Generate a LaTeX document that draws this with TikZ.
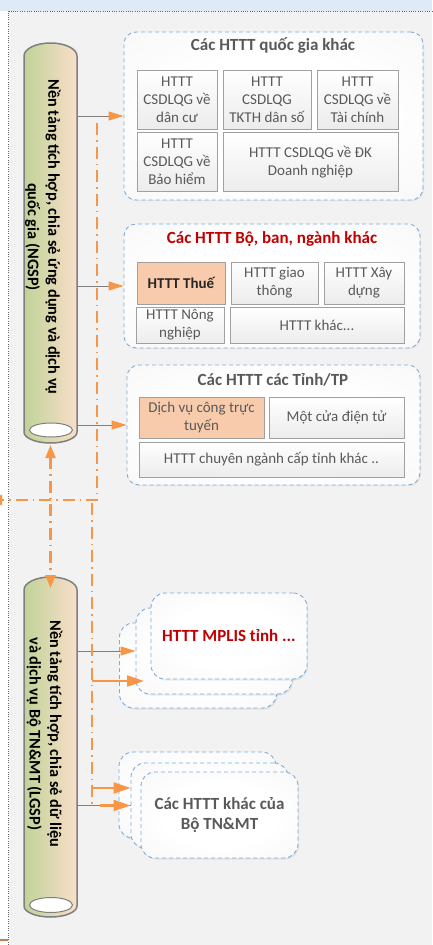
\documentclass[tikz,border=0pt]{standalone}
\usepackage{fontspec}
\setmainfont{Carlito}
\usetikzlibrary{arrows.meta,shadows,calc}
\definecolor{bg}{RGB}{242,242,242}
\definecolor{band}{RGB}{222,235,247}
\definecolor{dotc}{RGB}{105,105,105}
\definecolor{og}{RGB}{247,150,70}
\definecolor{lnk}{RGB}{127,127,127}
\definecolor{dblue}{RGB}{125,172,220}
\definecolor{txtg}{RGB}{89,89,89}
\definecolor{redt}{RGB}{192,0,0}
\definecolor{peach}{RGB}{248,203,173}
\definecolor{cgreen}{RGB}{192,211,152}
\definecolor{cmid}{RGB}{238,226,196}
\definecolor{cpeach}{RGB}{249,222,202}
\definecolor{ibord}{RGB}{160,160,160}
\definecolor{shgray}{RGB}{236,236,236}
\definecolor{softg}{RGB}{234,234,234}
\definecolor{brn}{RGB}{195,125,80}
\pgfdeclareradialshading{softrad}{\pgfpoint{0bp}{0bp}}{color(0bp)=(white); color(18bp)=(white); color(72bp)=(softg)}
\tikzset{
  dotline/.style={draw=dotc, line width=0.9pt, dash pattern=on 1pt off 1.3pt},
  outerbox/.style={draw=dblue, line width=0.9pt, dash pattern=on 4pt off 3pt,
    rounded corners=12pt, shade, shading=softrad,
    drop shadow={shadow xshift=1pt, shadow yshift=-1.2pt, opacity=0.12}},
  stackbox/.style={draw=dblue, line width=0.9pt, dash pattern=on 4pt off 3pt,
    rounded corners=14pt, shade, shading=softrad,
    drop shadow={shadow xshift=1.2pt, shadow yshift=-1.5pt, opacity=0.15}},
  ibox/.style={draw=ibord, line width=0.8pt, top color=white, bottom color=shgray,
    text=txtg, font=\fontsize{15}{18}\selectfont, align=center, inner sep=1pt,
    drop shadow={shadow xshift=0.8pt, shadow yshift=-0.8pt, opacity=0.2}},
  pbox/.style={draw=ibord, line width=0.8pt, fill=peach,
    text=txtg, font=\fontsize{15}{18}\selectfont, align=center, inner sep=1pt,
    drop shadow={shadow xshift=0.8pt, shadow yshift=-0.8pt, opacity=0.2}},
  titletxt/.style={font=\bfseries\fontsize{17}{20}\selectfont, text=txtg, inner sep=0pt},
  cyltext/.style={rotate=-90, align=center, font=\bfseries\fontsize{16.3}{20.5}\selectfont, inner sep=0pt},
  cylbody/.style={draw=lnk, line width=1.5pt, left color=cgreen, middle color=cmid, right color=cpeach},
  link/.style={draw=lnk, line width=1pt, -{Triangle[length=15pt,width=9pt,color=og]}},
  odash/.style={draw=og, line width=2.2pt, dash pattern=on 12pt off 5pt on 1.5pt off 5pt},
  oarrow/.style={draw=og, line width=2.2pt, -{Triangle[length=17pt,width=11pt]}},
}
\begin{document}
\begin{tikzpicture}[x=1pt,y=-1pt]
\useasboundingbox (0,0) rectangle (432,945);
\fill[bg] (0,0) rectangle (432,945);
\fill[white] (0,11) rectangle (8.5,945);
\fill[band] (0,0) rectangle (432,11);
\draw[dotline] (8.5,945) -- (8.5,11) -- (432,11);

% ---------- cylinders ----------
\path[cylbody] (24,56) arc[start angle=180,end angle=0,x radius=26.5pt,y radius=13pt]
  -- (77,432) arc[start angle=0,end angle=-180,x radius=26.5pt,y radius=11pt] -- cycle;
\draw[lnk, fill=white, line width=1pt] (51,430) ellipse [x radius=21.5pt, y radius=7pt];
\node[inner sep=0pt, minimum width=53pt, minimum height=400pt] (ngsp) at (50.5,243) {};
\node[cyltext] (ngsptxt) at (43,237) {Nền tảng tích hợp, chia sẻ ứng dụng và dịch vụ\\quốc gia (NGSP)};

\path[cylbody] (24,590) arc[start angle=180,end angle=0,x radius=26.5pt,y radius=13pt]
  -- (77,906) arc[start angle=0,end angle=-180,x radius=26.5pt,y radius=11pt] -- cycle;
\draw[lnk, fill=white, line width=1pt] (51,905) ellipse [x radius=21.5pt, y radius=7.5pt];
\node[inner sep=0pt, minimum width=53pt, minimum height=340pt] (lgsp) at (50.5,747) {};
\node[cyltext] (lgsptxt) at (44.5,734) {Nền tảng tích hợp, chia sẻ dữ liệu\\và dịch vụ Bộ TN\&MT (LGSP)};

% ---------- box 1 ----------
\node[outerbox, minimum width=299pt, minimum height=168pt] (box1) at (273.5,116) {};
\node[titletxt] (t1) at (273,46) {Các HTTT quốc gia khác};
\node[ibox, minimum width=80pt, minimum height=59pt] (b11) at (177,99.5) {HTTT\\CSDLQG về\\dân cư};
\node[ibox, minimum width=88pt, minimum height=59pt] (b12) at (267,99.5) {HTTT\\CSDLQG\\TKTH dân số};
\node[ibox, minimum width=81pt, minimum height=59pt] (b13) at (357.5,99.5) {HTTT\\CSDLQG về\\Tài chính};
\node[ibox, minimum width=80pt, minimum height=59pt] (b21) at (177,161.5) {HTTT\\CSDLQG về\\Bảo hiểm};
\node[ibox, minimum width=175pt, minimum height=59pt] (b22) at (310.5,162) {HTTT CSDLQG về ĐK\\Doanh nghiệp};

% ---------- box 2 ----------
\node[outerbox, minimum width=296pt, minimum height=124pt] (box2) at (272,286) {};
\node[titletxt, text=redt] (t2) at (272,239) {Các HTTT Bộ, ban, ngành khác};
\node[pbox, minimum width=88pt, minimum height=42pt, font=\bfseries\fontsize{15}{18}\selectfont, text=black!85] (c11) at (181,283) {HTTT Thuế};
\node[ibox, minimum width=87pt, minimum height=42pt] (c12) at (274.5,283) {HTTT giao\\thông};
\node[ibox, minimum width=80pt, minimum height=42pt] (c13) at (364,283) {HTTT Xây\\dựng};
\node[ibox, minimum width=88pt, minimum height=36pt] (c21) at (180,325) {HTTT Nông\\nghiệp};
\node[ibox, minimum width=174pt, minimum height=36pt] (c22) at (317,325) {HTTT khác...};

% ---------- box 3 ----------
\node[outerbox, minimum width=293pt, minimum height=120pt] (box3) at (273.5,425) {};
\node[titletxt] (t3) at (273,380) {Các HTTT các Tỉnh/TP};
\node[pbox, minimum width=125pt, minimum height=41pt] (d11) at (201.5,417.5) {Dịch vụ công trực\\tuyến};
\node[ibox, minimum width=135pt, minimum height=41pt] (d12) at (336.5,417.5) {Một cửa điện tử};
\node[ibox, minimum width=265pt, minimum height=35pt] (d21) at (271.5,459.5) {HTTT chuyên ngành cấp tỉnh khác ..};

% ---------- MPLIS stack ----------
\node[stackbox, minimum width=157pt, minimum height=85pt] (mp3) at (198,665.5) {};
\node[stackbox, minimum width=156pt, minimum height=86pt] (mp2) at (214,651) {};
\node[stackbox, minimum width=156pt, minimum height=86pt, font=\bfseries\fontsize{17}{20}\selectfont, text=redt] (mp1) at (229,636) {HTTT MPLIS tỉnh ...};

% ---------- other TN&MT stack ----------
\node[stackbox, minimum width=157pt, minimum height=86pt] (ok3) at (197.5,795) {};
\node[stackbox, minimum width=157pt, minimum height=85pt] (ok2) at (209.5,805.5) {};
\node[stackbox, minimum width=157pt, minimum height=86pt, align=center, font=\bfseries\fontsize{17}{20}\selectfont, text=txtg] (ok1) at (219.5,815) {Các HTTT khác của\\Bộ TN\&MT};

% ---------- connectors ----------
\draw[link] (ngsp.east |- box1.west) -- (box1.west);
\draw[link] (ngsp.east |- box2.west) -- (box2.west);
\draw[link] (ngsp.east |- box3.west) -- (box3.west);
\draw[link] (lgsp.east |- mp2.west) -- (mp2.west);
\draw[draw=lnk, line width=1pt] (lgsp.east |- ok2.west) -- (ok2.west);
\draw[oarrow] ($(ok2.west)+(-31,0)$) -- (ok2.west);

\coordinate (p1) at (97,123);
\coordinate (p2) at (97,500);
\coordinate (p3) at (-12,500);
\draw[odash, -{Triangle[length=14pt,width=10pt]}] (p1) -- (p2) -- (p3);

\coordinate (q1) at (92,503);
\coordinate (q2) at (92,806);
\draw[odash] (q1) -- (q2);
\coordinate (q3) at (92,681);
\coordinate (q4) at (144,681);
\draw[oarrow] (q3) -- (q4);
\coordinate (q5) at (92,788);
\draw[oarrow] (q5) -- (q5 -| ok2.west);

\coordinate (u1) at (50.5,445);
\coordinate (u2) at (50.5,588);
\draw[odash, {Triangle[length=13pt,width=10pt]}-{Triangle[length=13pt,width=10pt]}] (u1) -- (u2);

\coordinate (z1) at (-2,940);
\coordinate (z2) at (8,940);
\draw[brn, line width=2pt] (z1) -- (z2);
\end{tikzpicture}
\end{document}
